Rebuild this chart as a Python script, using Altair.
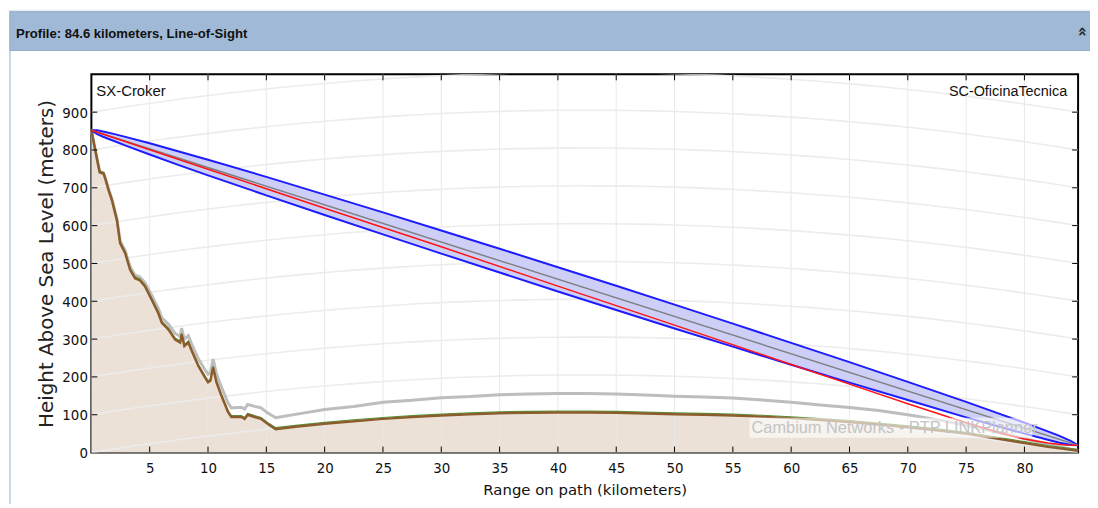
import altair as alt
import pandas as pd

# ---------------- data ----------------
terrain_km = [0.0, 0.34, 0.71, 1.05, 1.19, 1.48, 1.76, 2.19, 2.47, 2.9, 3.32, 3.74, 4.17, 4.6,
              5.17, 5.73, 6.04, 6.61, 7.18, 7.61, 7.74, 7.97, 8.31, 8.6, 9.17, 9.74, 10.0, 10.2,
              10.44, 10.72, 11.15, 11.72, 12.0, 12.85, 13.14, 13.4, 14.0, 14.55, 15.1, 15.8,
              17.5, 20.0, 22.5, 25.0, 27.5, 30.0, 32.5, 35.0, 37.5, 40.0, 42.5, 45.0, 47.5,
              50.0, 52.5, 55.0, 57.5, 60.0, 62.5, 65.0, 67.5, 70.0, 72.5, 75.0, 77.5, 80.0,
              82.0, 83.5, 84.6]
terrain_m = [852, 798, 741, 737, 724, 693, 667, 614, 553, 527, 483, 461, 455, 439,
             404, 369, 343, 325, 299, 291, 312, 282, 291, 269, 229, 199, 186, 190,
             225, 186, 150, 107, 94, 94, 89, 100, 94, 89, 76, 62,
             68, 76, 83, 89, 94, 98, 101, 104, 105, 106, 106, 105, 103,
             101, 100, 98, 95, 91, 86, 81, 74, 67, 59, 50, 38, 25,
             15, 9, 5]
grey_m = [852, 799, 743, 739, 727, 696, 671, 619, 559, 534, 491, 469, 464, 449,
          416, 382, 356, 339, 315, 307, 329, 299, 309, 287, 248, 219, 207, 211,
          247, 208, 173, 131, 118, 120, 115, 127, 122, 118, 105, 92,
          101, 114, 122, 133, 138, 145, 148, 153, 155, 156, 156, 155, 152,
          149, 147, 144, 139, 133, 126, 119, 111, 100, 87, 72, 55, 37,
          22, 12, 5]

fresnel_km = [0, 0.5, 1, 2, 3, 5, 7.5, 10, 15, 20, 25, 30, 35, 40, 45, 50, 55, 60, 65,
              70, 75, 78, 80, 82, 83, 84, 84.6]
fresnel_top = [852, 852, 849, 842, 834, 818, 796, 774, 729, 682, 635, 587, 539, 490, 441,
               391, 341, 290, 239, 187, 134, 101, 79, 56, 44, 30, 19]
fresnel_bottom = [852, 842, 835, 823, 811, 788, 760, 733, 680, 628, 577, 526, 476, 426, 377,
                  328, 280, 232, 185, 139, 93, 67, 50, 34, 26, 20, 19]

los_km = [0, 84.6]
los_m = [852, 19]

red_km = [0, 10, 20, 30, 40, 50, 60, 65, 70, 75, 78, 80, 82, 83.5, 84.6]
red_m = [852, 749, 646, 544, 440, 337, 233, 181, 129, 79, 51, 36, 25, 20, 19]

x_ticks = [5, 10, 15, 20, 25, 30, 35, 40, 45, 50, 55, 60, 65, 70, 75, 80]
y_labels = [0, 100, 200, 300, 400, 500, 600, 700, 800, 900]
y_ticks = [100, 200, 300, 400, 500, 600, 700, 800, 900]

grid_heights = [0, 100, 200, 300, 400, 500, 600, 700, 800, 900]
grid_km = [0, 2, 4, 6, 8, 10, 12, 14, 16, 18, 20, 22, 24, 26, 28, 30, 32, 34, 36, 38, 40,
           42, 44, 46, 48, 50, 52, 54, 56, 58, 60, 62, 64, 66, 68, 70, 72, 74, 76, 78, 80,
           82, 84, 84.6]

W, H = 994, 381

terrain = pd.DataFrame({"km": terrain_km, "m": terrain_m, "g": grey_m})
fresnel = pd.DataFrame({"km": fresnel_km, "top": fresnel_top, "bot": fresnel_bottom})
los = pd.DataFrame({"km": los_km, "m": los_m})
red = pd.DataFrame({"km": red_km, "m": red_m})
xt = pd.DataFrame({"km": x_ticks})
yt = pd.DataFrame({"m": y_ticks})
grid = pd.DataFrame([(h, k) for h in grid_heights for k in grid_km], columns=["h", "km"])

xs = alt.Scale(domain=[0, 84.6], nice=False, zero=False)
ys = alt.Scale(domain=[0, 1000], nice=False)
TICKFONT = "DejaVu Sans Condensed, DejaVu Sans, sans-serif"

x_axis = alt.Axis(
    values=x_ticks, title="Range on path (kilometers)", grid=False, ticks=False, domain=False,
    labelFont=TICKFONT, labelFontSize=15, labelColor="#111", labelPadding=8,
    titleFont="DejaVu Sans", titleFontSize=15, titleFontWeight="normal", titleColor="#111",
    titlePadding=7)
y_axis = alt.Axis(
    values=y_labels, title="Height Above Sea Level (meters)", grid=False, ticks=False,
    domain=False, labelFont=TICKFONT, labelFontSize=15, labelColor="#111", labelPadding=4,
    titleFont="DejaVu Sans", titleFontSize=20, titleFontWeight="normal", titleColor="#222",
    titlePadding=5)


def X(f="km"):
    return alt.X(f"{f}:Q", scale=xs, axis=x_axis)


def Y(f):
    return alt.Y(f"{f}:Q", scale=ys, axis=y_axis)


terrain_fill = alt.Chart(terrain).mark_area(color="#ebe1d6", opacity=1).encode(
    x=X(), y=Y("m"))

vgrid = alt.Chart(xt).mark_rule(color="#e8e8e8", strokeWidth=1).encode(
    x=X(), y=alt.value(0), y2=alt.value(H))

cgrid = alt.Chart(grid).transform_calculate(
    yc="datum.h + datum.km * (84.6 - datum.km) / 17.0"
).mark_line(color="#ececec", strokeWidth=1.6, clip=True).encode(
    x=X(), y=Y("yc"), detail="h:N")

grey_line = alt.Chart(terrain).mark_line(color="#bdbdbd", strokeWidth=3).encode(
    x=X(), y=Y("g"))
green_line = alt.Chart(terrain).mark_line(color="#4f9a3c", strokeWidth=1.2, yOffset=-1.4).encode(
    x=X(), y=Y("m"))
brown_line = alt.Chart(terrain).mark_line(color="#8c5c2c", strokeWidth=2.5).encode(
    x=X(), y=Y("m"))

fz_fill = alt.Chart(fresnel).mark_area(color="#cdcff7", opacity=1).encode(
    x=X(), y=Y("top"), y2="bot:Q")
fz_top = alt.Chart(fresnel).mark_line(color="#1c1cff", strokeWidth=2).encode(
    x=X(), y=Y("top"))
fz_bot = alt.Chart(fresnel).mark_line(color="#1c1cff", strokeWidth=2).encode(
    x=X(), y=Y("bot"))
los_line = alt.Chart(los).mark_line(color="#808080", strokeWidth=1.5).encode(
    x=X(), y=Y("m"))
red_line = alt.Chart(red).mark_line(color="#ff1414", strokeWidth=1.5).encode(
    x=X(), y=Y("m"))

one = pd.DataFrame({"t": [""]})
wm_box = alt.Chart(one).mark_rect(color="white", opacity=0.6).encode(
    x=alt.value(663), x2=alt.value(948), y=alt.value(346), y2=alt.value(366))
wm_text = alt.Chart(pd.DataFrame({"t": ["Cambium Networks - PTP LINKPlanner"]})).mark_text(
    align="left", baseline="alphabetic", font="Liberation Sans", fontSize=16.5, color="#c4c4c4"
).encode(x=alt.value(665), y=alt.value(361), text="t:N")

tick_b = alt.Chart(xt).mark_rule(color="black", strokeWidth=1).encode(
    x=X(), y=alt.value(H), y2=alt.value(H - 6))
tick_t = alt.Chart(xt).mark_rule(color="black", strokeWidth=1).encode(
    x=X(), y=alt.value(0), y2=alt.value(6))
tick_l = alt.Chart(yt).mark_rule(color="black", strokeWidth=1).encode(
    y=Y("m"), x=alt.value(0), x2=alt.value(6))
tick_r = alt.Chart(yt).mark_rule(color="black", strokeWidth=1).encode(
    y=Y("m"), x=alt.value(W), x2=alt.value(W - 6))

lab_l = alt.Chart(pd.DataFrame({"t": ["SX-Croker"]})).mark_text(
    align="left", baseline="alphabetic", font="Liberation Sans", fontSize=15, color="#111"
).encode(x=alt.value(5), y=alt.value(22), text="t:N")
lab_r = alt.Chart(pd.DataFrame({"t": ["SC-OficinaTecnica"]})).mark_text(
    align="right", baseline="alphabetic", font="Liberation Sans", fontSize=14.5, color="#111"
).encode(x=alt.value(W - 11), y=alt.value(22), text="t:N")

topband = alt.Chart(one).mark_rect(color="#f0f0f0").encode(
    x=alt.value(-84), x2=alt.value(1006), y=alt.value(-65), y2=alt.value(-63))
panel = alt.Chart(one).mark_rect(fill="white", fillOpacity=0, stroke="#c9d7e8", strokeWidth=2).encode(
    x=alt.value(-82), x2=alt.value(1010), y=alt.value(-63), y2=alt.value(440))
header = alt.Chart(one).mark_rect(color="#a0b9d7", stroke="#93abc9", strokeWidth=1).encode(
    x=alt.value(-82), x2=alt.value(1010), y=alt.value(-63), y2=alt.value(-24))
header_text = alt.Chart(pd.DataFrame({"t": ["Profile: 84.6 kilometers, Line-of-Sight"]})).mark_text(
    align="left", baseline="alphabetic", font="Liberation Sans",
    fontWeight="bold", fontSize=13.2, color="#111"
).encode(x=alt.value(-76), y=alt.value(-37), text="t:N")
chevron = alt.Chart(pd.DataFrame({"t": ["»"]})).mark_text(
    align="center", baseline="middle", font="DejaVu Sans", fontWeight="bold", fontSize=16,
    angle=270, color="#222"
).encode(x=alt.value(998), y=alt.value(-43), text="t:N")

chart = alt.layer(
    terrain_fill, vgrid, cgrid, grey_line, green_line, brown_line,
    fz_fill, fz_top, fz_bot, los_line, red_line,
    wm_box, wm_text, tick_b, tick_t, tick_l, tick_r, lab_l, lab_r,
    topband, panel, header, header_text, chevron
).properties(
    width=W, height=H,
    autosize=alt.AutoSizeParams(type="none"),
    padding={"left": 84, "top": 65, "right": 12, "bottom": 50},
    background="white",
).configure_view(stroke="black", strokeWidth=2)

chart.save("out.html", embed_options={"renderer": "svg", "actions": False})
